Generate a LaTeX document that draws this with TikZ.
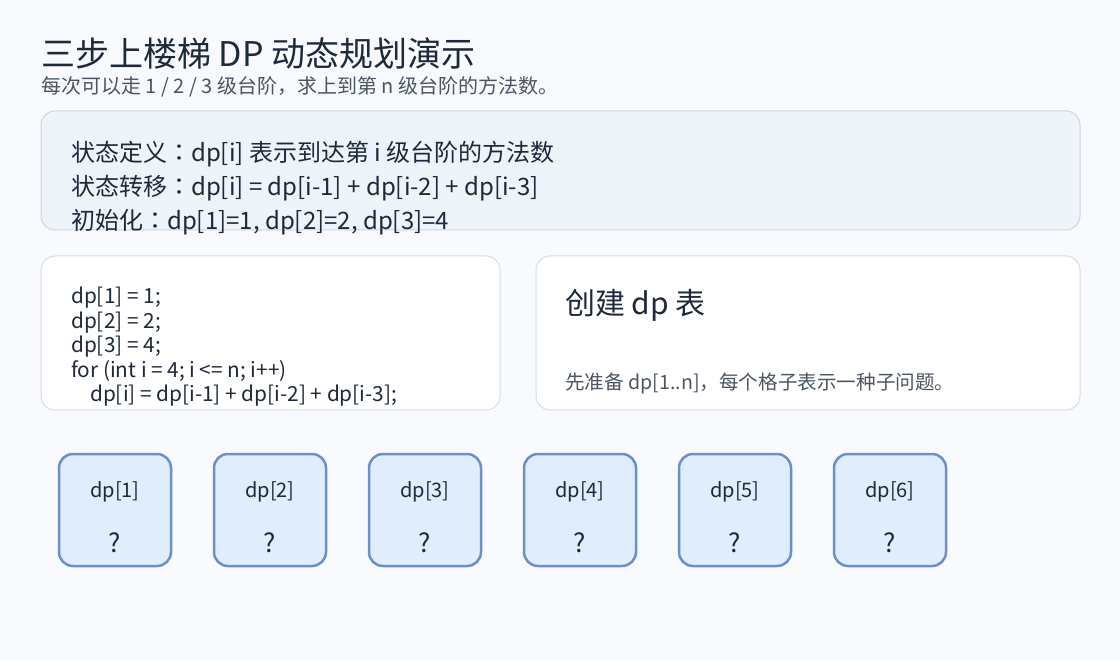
\documentclass[tikz,border=0pt]{standalone}
\usepackage{fontspec}
\setmainfont{Noto Sans CJK SC}
\newfontfamily\jpcolon{Noto Sans CJK JP}
\usetikzlibrary{positioning}

\definecolor{bgcol}{HTML}{F8FAFE}
\definecolor{inkcol}{HTML}{1E293B}
\definecolor{mutedcol}{HTML}{4B5563}
\definecolor{panelcol}{HTML}{EFF4FB}
\definecolor{panelline}{HTML}{CBD5E1}
\definecolor{cardline}{HTML}{D5DEEA}
\definecolor{cellfill}{HTML}{E0EDFD}
\definecolor{cellline}{HTML}{6A8FCA}

\newcommand{\midcolon}{{\jpcolon ：}}

\tikzset{
  panel/.style={draw=panelline, fill=panelcol, rounded corners=14pt, line width=1pt, inner sep=0pt},
  card/.style={draw=cardline, fill=white, rounded corners=14pt, line width=1pt, inner sep=0pt},
  cell/.style={draw=cellline, fill=cellfill, rounded corners=14pt, line width=2.5pt,
               minimum width=112pt, minimum height=112pt, inner sep=0pt},
  txt/.style={anchor=west, inner sep=0pt, text=inkcol, align=left},
  celllabel/.style={inner sep=0pt, text=inkcol, font=\fontsize{20}{22}\selectfont},
  cellvalue/.style={inner sep=0pt, text=inkcol, font=\fontsize{26}{30}\selectfont},
}

\begin{document}
\begin{tikzpicture}[x=1pt, y=-1pt]

      % Canvas
      \fill[bgcol] (0,0) rectangle (1120,660);
      \useasboundingbox (0,0) rectangle (1120,660);

      % Title
      \node[txt, font=\fontsize{34}{38}\selectfont]              (title) at (41,53) {三步上楼梯 DP 动态规划演示};
      \node[txt, text=mutedcol, font=\fontsize{20}{22}\selectfont] (subtitle) at (41,87) {每次可以走 1 / 2 / 3 级台阶，求上到第 n 级台阶的方法数。};

      % Panels
      \node[panel, minimum width=1039pt, minimum height=119pt] (rules) at (560.5,170.5) {};
      \node[card,  minimum width=459pt,  minimum height=154pt] (code)  at (270.5,333) {};
      \node[card,  minimum width=544pt,  minimum height=154pt] (step)  at (808,333) {};

      % Panel texts
      \node[txt, font=\fontsize{24}{34}\selectfont] (rules-text) at (71,188)
        {状态定义\midcolon dp[i] 表示到达第 i 级台阶的方法数\\
         状态转移\midcolon dp[i] = dp[i-1] + dp[i-2] + dp[i-3]\\
         初始化\midcolon dp[1]=1, dp[2]=2, dp[3]=4};
      \node[txt, font=\fontsize{20.8}{24.5}\selectfont] (code-text) at (71,347)
        {dp[1] = 1;\\
         dp[2] = 2;\\
         dp[3] = 4;\\
         for (int i = 4; i <= n; i++)\\
         \hspace*{19pt}dp[i] = dp[i-1] + dp[i-2] + dp[i-3];};
      \node[txt, font=\fontsize{30}{34}\selectfont] (step-title) at (565,305) {创建 dp 表};
      \node[txt, text=mutedcol, font=\fontsize{19.6}{22}\selectfont] (step-note) at (565,383) {先准备 dp[1..n]，每个格子表示一种子问题。};

      % DP table
      \node[cell]                                  (c1) at (115,510) {};
      \node[cell, right=40.5pt of c1]              (c2) {};
      \node[cell, right=40.5pt of c2]              (c3) {};
      \node[cell, right=40.5pt of c3]              (c4) {};
      \node[cell, right=40.5pt of c4]              (c5) {};
      \node[cell, right=40.5pt of c5]              (c6) {};

      \node[celllabel] (l1) at ([yshift=18pt]c1.center) {dp[1]};
      \node[celllabel] (l2) at ([yshift=18pt]c2.center) {dp[2]};
      \node[celllabel] (l3) at ([yshift=18pt]c3.center) {dp[3]};
      \node[celllabel] (l4) at ([yshift=18pt]c4.center) {dp[4]};
      \node[celllabel] (l5) at ([yshift=18pt]c5.center) {dp[5]};
      \node[celllabel] (l6) at ([yshift=18pt]c6.center) {dp[6]};

      \node[cellvalue] (v1) at ([yshift=-33pt]c1.center) {?};
      \node[cellvalue] (v2) at ([yshift=-33pt]c2.center) {?};
      \node[cellvalue] (v3) at ([yshift=-33pt]c3.center) {?};
      \node[cellvalue] (v4) at ([yshift=-33pt]c4.center) {?};
      \node[cellvalue] (v5) at ([yshift=-33pt]c5.center) {?};
      \node[cellvalue] (v6) at ([yshift=-33pt]c6.center) {?};

\end{tikzpicture}
\end{document}
